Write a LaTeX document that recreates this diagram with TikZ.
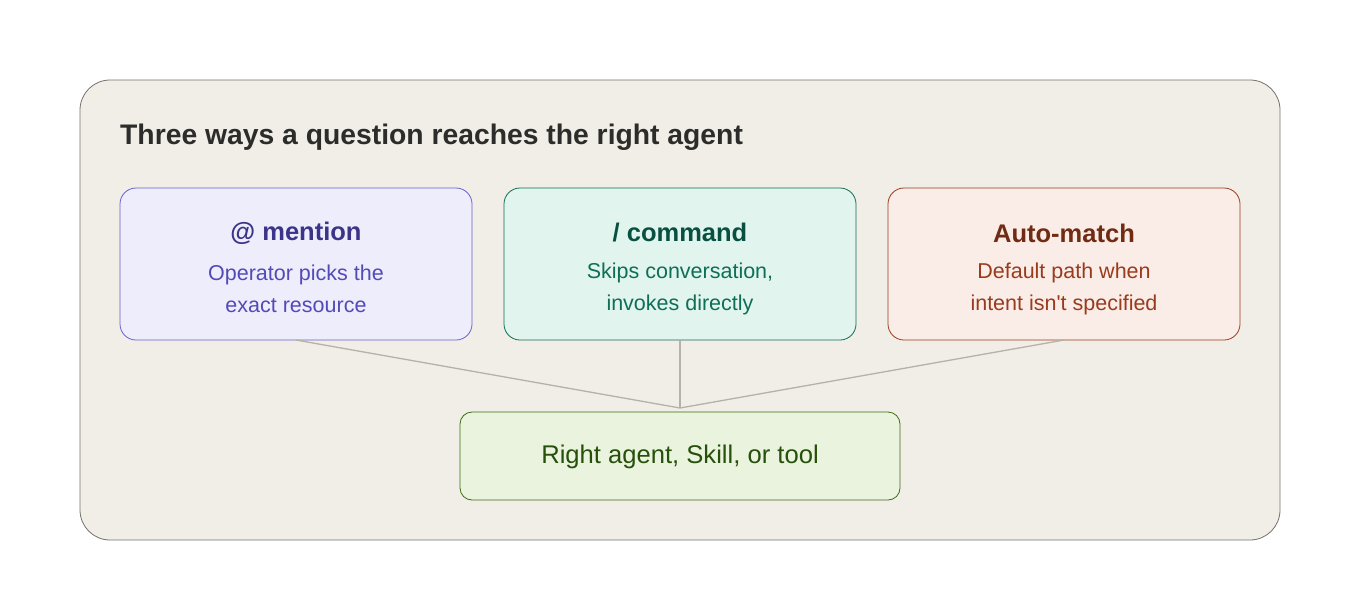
\documentclass[tikz,border=0pt]{standalone}
\usepackage{fontspec}
\setmainfont{Liberation Sans}
\begin{document}
\begin{tikzpicture}[x=1pt,y=-1pt,
 card/.style={draw=#1, line width=0.8pt, rounded corners=16pt},
 ttl/.style={font=\bfseries\fontsize{25.5}{30}\selectfont},
 sub/.style={font=\fontsize{21.5}{32}\selectfont, align=center},
 link/.style={draw=lk, line width=1.3pt}]
\definecolor{bg}{HTML}{F1EEE7}\definecolor{bd}{HTML}{73726C}
\definecolor{pf}{HTML}{EEEDFC}\definecolor{ps}{HTML}{6A60C8}\definecolor{pt}{HTML}{3C3489}\definecolor{px}{HTML}{534AB7}
\definecolor{gf}{HTML}{E1F5EE}\definecolor{gs}{HTML}{0F6E56}\definecolor{gt}{HTML}{085041}
\definecolor{of}{HTML}{FAECE7}\definecolor{os}{HTML}{993C1D}\definecolor{ot}{HTML}{712B13}
\definecolor{lf}{HTML}{EAF3DE}\definecolor{ls}{HTML}{3B6D11}\definecolor{lt}{HTML}{27500A}
\definecolor{lk}{HTML}{B4B2A9}\definecolor{tt}{HTML}{2C2C2A}
\useasboundingbox (0,0) rectangle (1360,600);
\draw[fill=bg, draw=bd, line width=0.8pt, rounded corners=30pt] (80,80) rectangle (1280,540);
\node[anchor=west, inner sep=0pt, text=tt, font=\bfseries\fontsize{28.3}{32}\selectfont] (title) at (120,137) {Three ways a question reaches the right agent};
\draw[card=ps, fill=pf] (120,188) rectangle (472,340);
\draw[card=gs, fill=gf] (504,188) rectangle (856,340);
\draw[card=os, fill=of] (888,188) rectangle (1240,340);
\node[ttl, text=pt] (t1) at (296,233) {@ mention};
\node[sub, text=px] (s1) at (296,289) {Operator picks the\\exact resource};
\node[ttl, text=gt] (t2) at (680,233) {/ command};
\node[sub, text=gs] (s2) at (680,289) {Skips conversation,\\invokes directly};
\node[ttl, text=ot] (t3) at (1064,233) {Auto-match};
\node[sub, text=os] (s3) at (1064,289) {Default path when\\intent isn\textquotesingle t specified};
\coordinate (b1) at (296,340); \coordinate (b2) at (680,340); \coordinate (b3) at (1064,340);
\coordinate (m) at (680,408);
\draw[link] (b1) -- (m); \draw[link] (b2) -- (m); \draw[link] (b3) -- (m);
\draw[card=ls, fill=lf, rounded corners=12pt] (460,412) rectangle (900,500);
\node[text=lt, font=\fontsize{25.6}{30}\selectfont] (res) at (680,457) {Right agent, Skill, or tool};
\end{tikzpicture}
\end{document}
